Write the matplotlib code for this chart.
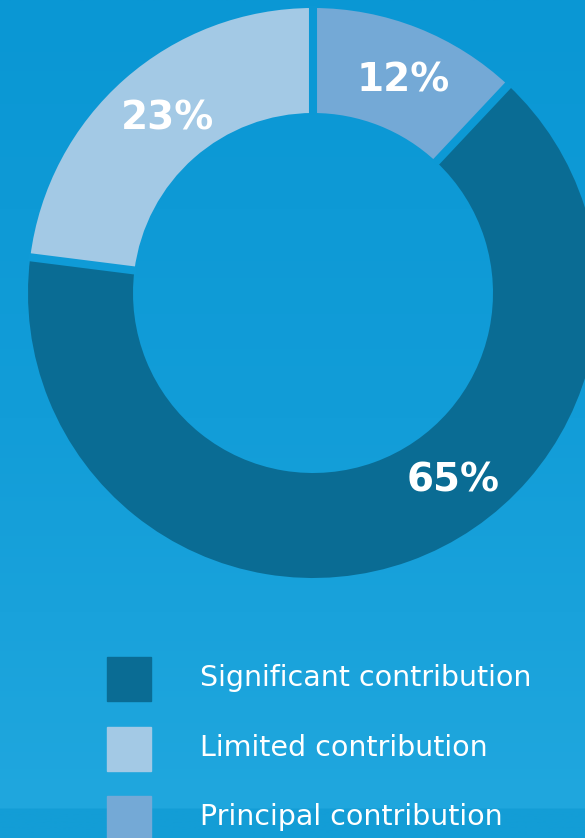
import numpy as np
import matplotlib

matplotlib.use("Agg")
import matplotlib.pyplot as plt
from matplotlib.colors import LinearSegmentedColormap
from matplotlib.patches import Rectangle

# data
categories = ["Principal contribution", "Significant contribution", "Limited contribution"]
shares = [12, 65, 23]
slice_colors = ["#74a9d6", "#0a6c94", "#a3c9e5"]
legend_order = ["Significant contribution", "Limited contribution", "Principal contribution"]

W, H = 585, 838
fig = plt.figure(figsize=(W / 100, H / 100), dpi=100)
ax = fig.add_axes([0, 0, 1, 1])

# background gradient (0 = top, 1 = bottom)
bg = LinearSegmentedColormap.from_list(
    "bg", [(0.0, "#0a97d4"), (0.5, "#129dd8"), (0.965, "#20a7de"),
           (0.968, "#139dd6"), (1.0, "#139dd6")])
grad = np.linspace(0, 1, 512).reshape(-1, 1)
ax.imshow(grad, cmap=bg, extent=[0, W, 0, H], aspect="auto", zorder=0)

cx, cy, r, ring = 313, H - 293, 285, 105
wedges, _ = ax.pie(shares, colors=slice_colors, startangle=90, counterclock=False,
                   center=(cx, cy), radius=r, frame=True,
                   wedgeprops=dict(width=ring, linewidth=0))
for w in wedges:
    w.set_zorder(2)

# gaps between slices, painted in the local background colour
bounds = 90 - 360 * np.cumsum([0] + shares[:-1]) / sum(shares)
for a in np.deg2rad(bounds):
    xs = [cx + (r - ring - 2) * np.cos(a), cx + (r + 2) * np.cos(a)]
    ys = [cy + (r - ring - 2) * np.sin(a), cy + (r + 2) * np.sin(a)]
    col = bg(1 - np.mean(ys) / H)
    ax.plot(xs, ys, color=col, linewidth=5.8, solid_capstyle="butt", zorder=2.5)

ax.set_xlim(0, W)
ax.set_ylim(0, H)
ax.set_aspect("equal")
ax.axis("off")

# percent labels
label_pos = [(403, 80), (453, 480), (168, 118)]
for (x, y), v in zip(label_pos, shares):
    ax.text(x, H - y, f"{v}%", color="white", fontsize=28, fontweight="heavy",
            family="DejaVu Sans", ha="center", va="center", zorder=3)

# legend
for i, name in enumerate(legend_order):
    top = 657 + i * 69.5
    col = slice_colors[categories.index(name)]
    ax.add_patch(Rectangle((107, H - top - 44), 44, 44, color=col, zorder=3))
    ax.text(200, H - top - 21, name, color="white", fontsize=20.5, family="DejaVu Sans",
            ha="left", va="center", zorder=3)

fig.savefig("out.png", dpi=100)
